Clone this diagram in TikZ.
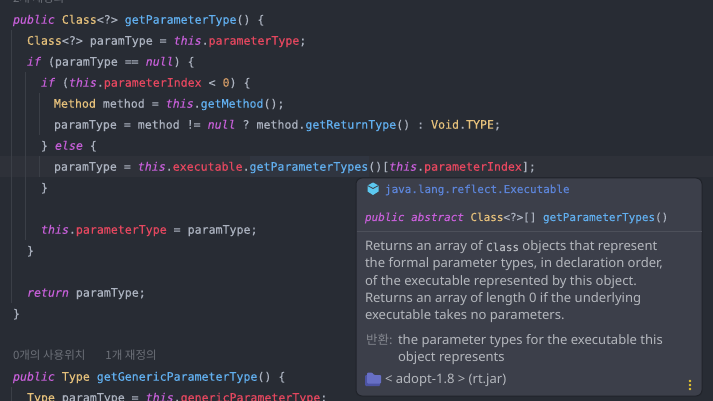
\documentclass[tikz,border=0pt]{standalone}
\usepackage{fontspec}
\setmainfont{Noto Sans}
\setmonofont[FakeBold=0.2]{DejaVu Sans Mono}
\newfontfamily\cjkfont{Noto Sans CJK KR}
\definecolor{bg}{HTML}{282C34}
\definecolor{curline}{HTML}{2E3139}
\definecolor{guide}{HTML}{3B3F47}
\definecolor{popbg}{HTML}{3C3F4A}
\definecolor{popedge}{HTML}{20232A}
\definecolor{sep}{HTML}{4D505A}
\definecolor{fg}{HTML}{ABB2BF}
\definecolor{kw}{HTML}{C65FD8}
\definecolor{cls}{HTML}{E5C07B}
\definecolor{fn}{HTML}{61AFEF}
\definecolor{fld}{HTML}{E5475F}
\definecolor{num}{HTML}{D19A66}
\definecolor{muted}{HTML}{6C7078}
\definecolor{pkg}{HTML}{5C84D8}
\definecolor{cube}{HTML}{5CC8F0}
\definecolor{folder}{HTML}{5A62C0}
\definecolor{doc}{HTML}{B4B7BD}
\definecolor{dots}{HTML}{E8C62E}
\newcommand{\K}[1]{\textcolor{kw}{\itshape #1}}
\newcommand{\C}[1]{\textcolor{cls}{#1}}
\newcommand{\F}[1]{\textcolor{fn}{#1}}
\newcommand{\V}[1]{\textcolor{fld}{#1}}
\newcommand{\N}[1]{\textcolor{num}{#1}}
\tikzset{
  x=1pt,y=-1pt,
  code/.style={anchor=base west,inner sep=0pt,outer sep=0pt,text=fg,font=\ttfamily\fontsize{11.6}{13}\selectfont},
  popcode/.style={code,font=\ttfamily\fontsize{10.95}{13}\selectfont},
  docline/.style={anchor=base west,inner sep=0pt,outer sep=0pt,text=doc,font=\fontsize{13.05}{15}\selectfont},
  muted text/.style={anchor=base west,inner sep=0pt,outer sep=0pt,text=muted,font=\cjkfont\fontsize{11.5}{13}\selectfont},
  indent guide/.style={draw=guide,line width=0.8pt}
}
\newcommand{\cl}[4]{\node[code] (#1) at (#2,#3+4.7) {#4};}
\begin{document}
\begin{tikzpicture}
\useasboundingbox (0,0) rectangle (713,401);
\fill[bg] (0,0) rectangle (713,401);
\fill[curline] (0,156) rectangle (713,177);
\fill[fill=fn,fill opacity=0.04] (250,156) rectangle (369,177);
% indent guides
\draw[indent guide] (11,30) -- (11,303);
\draw[indent guide] (25,72) -- (25,240);
\draw[indent guide] (39,93) -- (39,135);
\draw[indent guide] (39,156) -- (39,177);
\draw[indent guide] (11,387) -- (11,401);
% code
\node[muted text] (top) at (13,3) {2개 재정의};
\cl{l1}{13}{19}{\K{public} \C{Class}<?> \F{getParameterType}() \{}
\cl{l2}{27}{40}{\C{Class}<?> paramType = \K{this}.\V{parameterType};}
\cl{l3}{27}{61}{\K{if} (paramType == \K{null}) \{}
\cl{l4}{41}{82}{\K{if} (\K{this}.\V{parameterIndex} < \N{0}) \{}
\cl{l5}{54}{103}{\C{Method} method = \K{this}.\F{getMethod}();}
\cl{l6}{54}{124}{paramType = method != \K{null} ? method.\F{getReturnType}() : \C{Void}.\C{TYPE};}
\cl{l7}{41}{145}{\} \K{else} \{}
\cl{l8}{54}{166}{paramType = \K{this}.\V{executable}.\F{getParameterTypes}()[\K{this}.\V{parameterIndex}];}
\cl{l9}{41}{187}{\}}
\cl{l10}{41}{229}{\K{this}.\V{parameterType} = paramType;}
\cl{l11}{27}{250}{\}}
\cl{l12}{27}{292}{\K{return} paramType;}
\cl{l13}{13}{313}{\}}
\node[muted text] (uses) at (13,359) {0개의 사용위치\hspace{20pt}1개 재정의};
\cl{l14}{13}{376}{\K{public} \C{Type} \F{getGenericParameterType}() \{}
\cl{l15}{27}{397}{\C{Type} paramType = \K{this}.\V{genericParameterType};}
% popup
\draw[popedge,fill=popbg,line width=1pt,rounded corners=6pt] (356,178) rectangle (702,396);
\draw[sep,line width=0.7pt] (356.5,231) -- (701.5,231);
\fill[cube] (373,182.5) -- (378.5,185.5) -- (378.5,191.5) -- (373,195) -- (367.5,191.5) -- (367.5,185.5) -- cycle;
\draw[popbg,line width=0.8pt] (367.5,185.5) -- (373,188.5) -- (378.5,185.5);
\node[popcode,text=pkg] (pkgname) at (385,193) {java.lang.reflect.Executable};
\node[popcode] (sig) at (365,221) {\K{public} \K{abstract} \C{Class}<?>[] \F{getParameterTypes}()};
\node[docline] (d1) at (365,251) {Returns an array of {\ttfamily\fontsize{10.95}{13}\selectfont Class} objects that represent};
\node[docline] (d2) at (365,268) {the formal parameter types, in declaration order,};
\node[docline] (d3) at (365,285) {of the executable represented by this object.};
\node[docline] (d4) at (365,302) {Returns an array of length 0 if the underlying};
\node[docline] (d5) at (365,319) {executable takes no parameters.};
\node[muted text,text=doc!60!popbg,font=\cjkfont\fontsize{12.5}{14}\selectfont] (ret) at (366,344) {반환:};
\node[docline] (r1) at (398,344) {the parameter types for the executable this};
\node[docline] (r2) at (398,361) {object represents};
\fill[folder!85!black,rounded corners=1pt] (365,375) -- (365,386) -- (380,386) -- (380,375) -- cycle;
\fill[folder!92!white,rounded corners=1pt] (367,372.5) -- (367,383.5) -- (381,383.5) -- (381,375) -- (374,375) -- (372,372.5) -- cycle;
\node[docline] (jar) at (385,383) {< adopt-1.8 > (rt.jar)};
\fill[dots] (690,381) circle (1.3) (690,385) circle (1.3) (690,389) circle (1.3);
\end{tikzpicture}
\end{document}
